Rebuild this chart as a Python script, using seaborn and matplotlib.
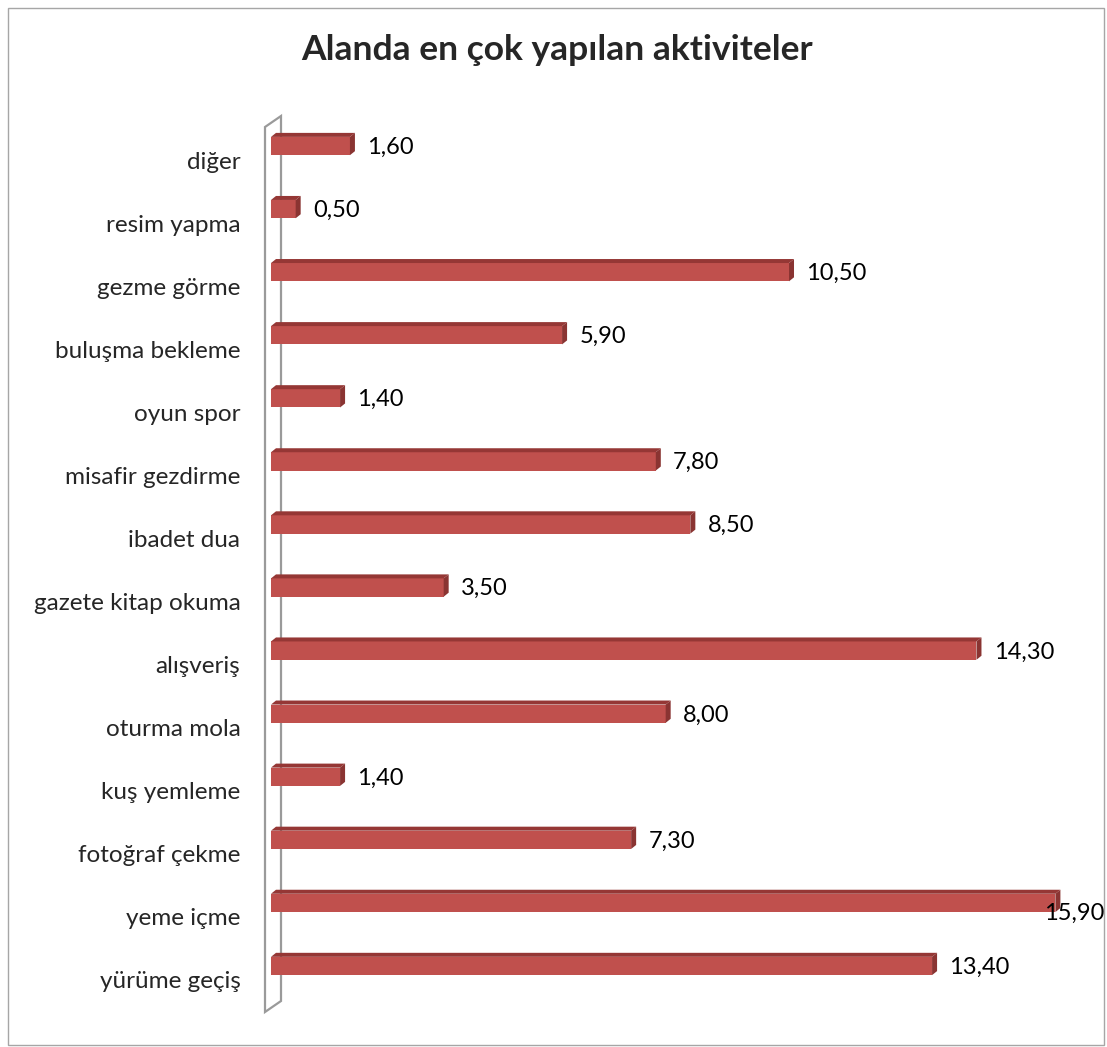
import numpy as np
import pandas as pd
import matplotlib
matplotlib.use("Agg")
import matplotlib.pyplot as plt
import matplotlib.transforms as mtransforms
import seaborn as sns
from matplotlib.patches import Polygon, Rectangle

# data (top to bottom)
activities = ["diğer", "resim yapma", "gezme görme", "buluşma bekleme", "oyun spor",
              "misafir gezdirme", "ibadet dua", "gazete kitap okuma", "alışveriş",
              "oturma mola", "kuş yemleme", "fotoğraf çekme", "yeme içme", "yürüme geçiş"]
percent = [1.60, 0.50, 10.50, 5.90, 1.40, 7.80, 8.50, 3.50, 14.30, 8.00, 1.40, 7.30, 15.90, 13.40]

df = pd.DataFrame({"aktivite": activities, "oran": percent})

sns.set_style("white")
plt.rcParams["font.family"] = ["Lato", "DejaVu Sans"]

W, H = 1107, 1047
fig = plt.figure(figsize=(W / 100, H / 100), dpi=100)


def fx(px):
    return px / W


def fy(py):
    return 1 - py / H


ax = fig.add_axes([fx(271), fy(997.5), fx(1085) - fx(271), fy(114.5) - fy(997.5)])
ax.patch.set_visible(False)

front = "#C0504D"
top_c = "#953735"
side_c = "#8A3432"

sns.barplot(data=df, x="oran", y="aktivite", orient="h", color=front,
            width=0.29, saturation=1, linewidth=0, edgecolor="none", ax=ax, zorder=3)
ax.set_xlim(0, 16.5)

# pseudo 3D faces
dx = 5 / 49.3
dy = 4 / 63.0
for bar in list(ax.patches):
    x0, y0 = bar.get_x(), bar.get_y()
    w, h = bar.get_width(), bar.get_height()
    top = y0  # inverted axis: y0 is the upper edge on screen
    ax.add_patch(Polygon([(x0, top), (x0 + dx, top - dy), (x0 + w + dx, top - dy), (x0 + w, top)],
                         closed=True, facecolor=top_c, edgecolor="none", zorder=3))
    ax.add_patch(Polygon([(x0 + w, top), (x0 + w + dx, top - dy), (x0 + w + dx, top + h - dy),
                          (x0 + w, top + h)],
                         closed=True, facecolor=side_c, edgecolor="none", zorder=3))

# value labels with comma decimals
for i, v in enumerate(percent):
    txt = f"{v:.2f}".replace(".", ",")
    lx, ly = v + 0.35, i + 0.02
    if lx > 15.5:
        lx, ly = 15.66, i + 0.17
    ax.text(lx, ly, txt, ha="left", va="center", fontsize=17, color="black", zorder=5)

ax.set_xlabel("")
ax.set_ylabel("")
ax.set_xticks([])
ax.tick_params(axis="y", length=0, pad=22, labelsize=17.5)
sns.despine(ax=ax, left=True, bottom=True)

# category labels sit a little lower than the bars (3D perspective)
shift = mtransforms.ScaledTranslation(0, -14 / 100, fig.dpi_scale_trans)
for lab in ax.get_yticklabels():
    lab.set_transform(lab.get_transform() + shift)

# back wall of the 3D plot
wall = Polygon([(fx(265), fy(127)), (fx(281), fy(116)), (fx(281), fy(1001)), (fx(265), fy(1012))],
               closed=True, transform=fig.transFigure, facecolor="none",
               edgecolor="#9A9A9A", linewidth=1.6, zorder=-1)
fig.add_artist(wall)

# chart border
fig.add_artist(Rectangle((fx(8), fy(1045)), fx(1104) - fx(8), fy(8) - fy(1045),
                         transform=fig.transFigure, facecolor="none",
                         edgecolor="#A6A6A6", linewidth=1.0, zorder=-2))

fig.text(fx(557), fy(50), "Alanda en çok yapılan aktiviteler", ha="center", va="center",
         fontsize=25.5, fontweight="bold")

fig.savefig("out.png", dpi=100)
